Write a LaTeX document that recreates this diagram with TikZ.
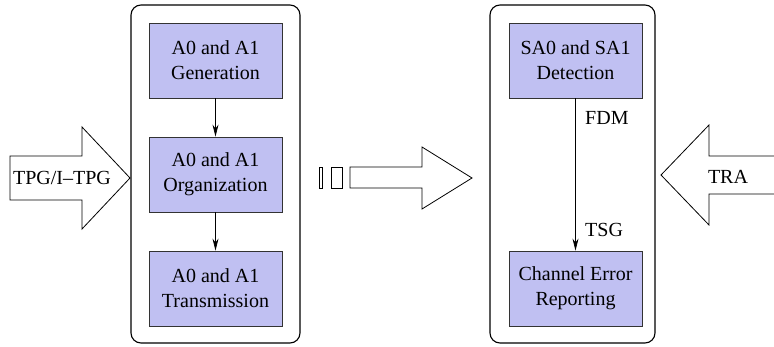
\documentclass[tikz,border=0pt]{standalone}
\usepackage{fontspec}
\setmainfont{Liberation Serif}[Ligatures=TeX]
\usetikzlibrary{arrows.meta}
\definecolor{boxfill}{RGB}{192,192,242}
\tikzset{
  panel/.style={draw=black, line width=1.1pt, rounded corners=10pt},
  stage/.style={draw=black!80, line width=0.8pt, fill=boxfill, minimum width=133pt,
    minimum height=75pt, align=center, inner sep=0pt},
  blockarrow/.style={draw=black, line width=0.8pt, line join=miter},
  flow/.style={draw=black, line width=0.8pt, -{Stealth[length=12pt,width=6pt]}},
  lbl/.style={inner sep=0pt, anchor=west}
}
\begin{document}
\begin{tikzpicture}[x=1pt, y=-1pt, font=\rmfamily\fontsize{20}{25}\selectfont]
\useasboundingbox (0,0) rectangle (774,347);

% containers
\draw[panel] (131,5) rectangle (300,343);
\draw[panel] (490,5) rectangle (655,343);

% left column stages
\node[stage] (gen) at (215.5,60.5) {A0 and A1\\Generation};
\node[stage] (org) at (215.5,174.5) {A0 and A1\\Organization};
\node[stage] (tx)  at (215.5,288.5) {A0 and A1\\Transmission};
\draw[flow] (gen) -- (org);
\draw[flow] (org) -- (tx);

% right column stages
\node[stage] (det) at (575.5,60.5) {SA0 and SA1\\Detection};
\node[stage] (rep) at (575.5,288.5) {Channel Error\\Reporting};
\draw[flow] (det) -- (rep);
\node[lbl] (fdm) at (585,118) {FDM};
\node[lbl] (tsg) at (585,230) {TSG};

% incoming block arrow on the left
\draw[blockarrow] (10,156) -- (82,156) -- (82,127) -- (130,178) -- (82,229)
  -- (82,200) -- (10,200) -- cycle;
\node (tpg) at (62,178) {TPG/I--TPG};

% block arrow between the two panels
\draw[blockarrow, line width=0.6pt] (319,167) rectangle (322.5,188);
\draw[blockarrow] (331,167) rectangle (342,188);
\draw[blockarrow] (350,167) -- (422,167) -- (422,147) -- (472,178) -- (422,209)
  -- (422,188) -- (350,188) -- cycle;

% incoming block arrow on the right
\draw[blockarrow] (774,156) -- (709,156) -- (709,125) -- (661,175) -- (709,225)
  -- (709,194) -- (774,194);
\node (tra) at (728,177) {TRA};
\end{tikzpicture}
\end{document}
